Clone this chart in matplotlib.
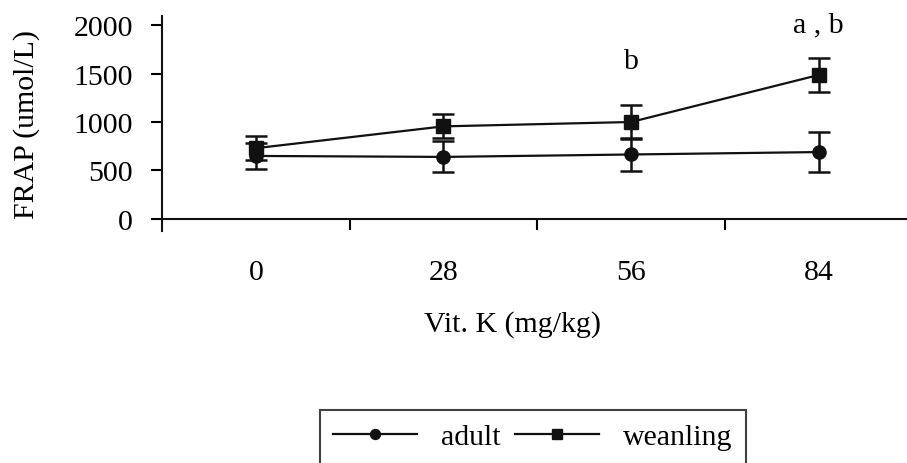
import matplotlib.pyplot as plt
import numpy as np

plt.rcParams["font.family"] = ["Liberation Serif", "DejaVu Serif"]

## FRAP vs vitamin K dose
doses = ["0", "28", "56", "84"]
adult = [650, 640, 665, 690]
adult_err = [135, 160, 175, 210]
weanling = [730, 955, 1000, 1485]
weanling_err = [125, 125, 175, 180]
yticks = [0, 500, 1000, 1500, 2000]
letters = {2: "b", 3: "a , b"}  ## significance marks above weanling
letter_y = {2: 1630, 3: 2010}

W, H = 907, 464
FS = 21.5
fig = plt.figure(figsize=(W / 100, H / 100), dpi=100)
ax = fig.add_axes([162 / W, 1 - 232 / H, (W - 162) / W, (232 - 17) / H])

x = np.arange(len(doses))
eb1 = ax.errorbar(x, adult, yerr=adult_err, color="#111111", marker="o", ms=9.5,
                  lw=1.6, elinewidth=1.8, capsize=8, capthick=1.8, zorder=3)
eb2 = ax.errorbar(x, weanling, yerr=weanling_err, color="#111111", marker="s", ms=10,
                  lw=1.6, elinewidth=1.8, capsize=8, capthick=1.8, zorder=4)

for k, txt in letters.items():
    ax.text(x[k], letter_y[k], txt, ha="center", va="center", fontsize=FS)

ax.set_xlim(-0.5, 3.47)
ax.set_ylim(-124, 2093)
ax.spines["top"].set_visible(False)
ax.spines["right"].set_visible(False)
ax.spines["bottom"].set_position(("data", 0))
for s in ("left", "bottom"):
    ax.spines[s].set_linewidth(1.5)
    ax.spines[s].set_color("#111111")

ax.set_yticks(yticks)
ax.set_yticklabels([str(v) for v in yticks])
ax.tick_params(axis="y", length=8, width=1.5, pad=13, labelsize=FS)

## tick marks between groups, labels under group centres
ax.set_xticks([0.5, 1.5, 2.5])
ax.set_xticklabels([])
ax.tick_params(axis="x", which="major", length=8, width=1.5, direction="out")
ax.set_xticks(x, minor=True)
ax.set_xticklabels(doses, minor=True)
ax.tick_params(axis="x", which="minor", length=0, pad=29, labelsize=FS)

fig.text(513 / W, 1 - 325 / H, "Vit. K (mg/kg)", ha="center", va="center", fontsize=FS)
fig.text(27 / W, 1 - 125 / H, "FRAP (umol/L)", ha="center", va="center",
         rotation=90, fontsize=FS)

leg = fig.legend([eb1[0], eb2[0]], ["adult", "weanling"], loc="upper left",
                 bbox_to_anchor=(320 / W, 1 - 411 / H), borderaxespad=0, ncol=2,
                 fontsize=FS, frameon=True, fancybox=False, edgecolor="#111111",
                 handlelength=2.8, handletextpad=0.8, columnspacing=0.5,
                 borderpad=0.45, markerscale=0.75)
leg.get_frame().set_linewidth(1.5)

fig.savefig("out.png", dpi=100)
